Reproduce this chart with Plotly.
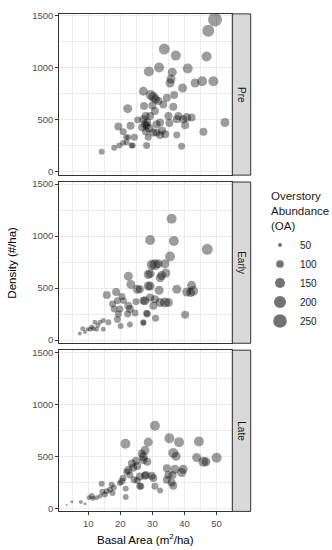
import plotly.graph_objects as go
import math

# ---------------- data ----------------
pre_ba = [14.2,18.1,19.7,20.9,19.4,20.9,21.8,22.3,23.2,23.9,24.4,25.4,27.2,28.2,28.7,28.9,27.4,27.9,27.7,29.5,30.3,31.0,30.8,32.1,33.7,31.3,37.3,36.2,41.0,35.8,35.5,39.4,43.3,45.5,49.0,49.5,47.4,46.9,52.6,45.9,39.1,37.6,31.9,33.4,34.5,35.0,36.5,37.6,38.1,39.6,40.7,42.2,40.2,32.4,28.2,27.2,31.3,34.0,32.4,30.3,29.3,28.4,28.0,22.5,22.0,23.5,33.0,35.3,30.0,26.8,29.0,36.8]
pre_den = [195,232,254,280,437,387,333,609,444,254,333,501,777,254,333,967,634,539,459,740,720,700,587,1005,1182,459,1119,960,995,894,856,808,856,872,872,1465,1357,1110,476,387,247,355,682,650,713,539,628,507,539,507,523,523,450,476,444,507,380,364,355,380,539,476,390,333,286,254,400,470,640,430,420,740]
pre_oa = [73,73,73,73,106,88,73,126,106,73,88,88,126,88,88,148,106,106,106,148,148,126,106,148,172,106,148,126,148,126,126,126,126,148,148,260,199,148,126,106,88,88,106,106,106,106,106,106,106,106,126,106,106,106,106,106,106,106,106,106,106,106,106,73,73,73,106,106,106,106,126,106]

early_ba = [7.4,8.3,9.0,10.6,11.1,12.1,11.6,12.6,13.7,14.7,14.7,16.3,15.8,18.7,19.1,17.6,18.1,19.4,19.1,20.1,19.9,22.5,23.3,25.3,22.5,23.0,22.3,23.0,24.9,24.6,27.2,27.2,28.4,28.7,28.7,29.3,36.0,36.7,47.1,35.5,30.8,29.8,31.8,33.9,29.3,32.9,34.2,32.4,29.3,32.1,26.1,37.6,40.7,42.2,42.7,41.9,27.7,29.3,30.8,32.4,33.9,35.0,30.3,28.2,27.2,31.0,40.2,21.0,20.5,9.8,13.0]
early_den = [63,110,79,104,126,173,110,104,173,189,104,173,435,463,378,347,300,252,199,135,300,615,536,489,331,300,252,151,369,262,378,173,252,520,631,962,1167,953,873,804,725,725,735,735,640,621,646,599,520,479,489,489,463,527,473,457,378,410,394,362,362,362,331,258,164,211,243,380,420,105,140]
early_oa = [50,60,50,60,60,60,60,60,60,60,60,73,106,106,88,88,88,88,88,73,88,126,126,126,106,106,88,73,88,88,106,73,88,126,126,148,148,148,172,148,172,148,126,126,126,126,126,126,126,126,106,126,126,126,148,126,126,106,106,126,148,126,106,88,73,88,106,88,88,50,60]

late_ba = [3.3,4.9,7.7,9.0,10.3,11.1,12.6,13.7,14.4,14.2,15.2,15.8,16.8,17.3,17.6,19.9,21.7,21.7,20.9,22.5,23.6,23.0,24.9,25.3,24.3,26.1,26.4,25.3,21.6,27.7,28.7,27.2,28.4,28.0,30.8,35.3,38.3,44.5,43.8,45.9,46.7,50.0,36.5,37.4,26.7,27.2,34.5,37.0,39.6,39.1,35.0,36.3,34.5,36.0,36.5,30.3,29.8,27.7,30.8,32.4,26.1,22.0,24.0,18.0,11.5,20.5]
late_den = [32,63,60,44,101,117,101,117,158,236,132,164,179,227,148,243,189,108,290,368,431,321,457,406,274,306,211,268,620,557,636,495,447,321,793,674,636,642,488,447,447,485,532,500,526,463,384,375,375,344,321,321,274,249,217,290,312,312,211,170,211,350,390,200,95,260]
late_oa = [36,42,50,42,60,73,60,60,73,73,73,73,73,73,73,73,73,73,88,106,106,88,106,106,88,106,88,88,148,126,126,126,106,106,148,148,148,148,126,148,126,148,148,126,106,106,106,126,126,126,106,106,106,106,106,106,106,106,88,73,88,88,106,73,60,88]

periods = ["Pre", "Early", "Late"]
legend_oa = [50, 100, 150, 200, 250]

# ---------------- styling ----------------
W, H = 332, 550
FILL = "rgba(0,0,0,0.55)"
GRID = "#EBEBEB"
BORDER = "#333333"
TICKC = "#4D4D4D"
FONT = "Liberation Sans, Arial, sans-serif"

def diam(oa):
    return math.sqrt(max(oa * 0.8585 - 26.9, 4.0))

x0p, x1p = 59.3, 232.3
strip_x1 = 250.7
panels_px = [(10, 173), (180, 343), (350, 513)]
xdom = [x0p / W, x1p / W]

fig = go.Figure()
data = [(pre_ba, pre_den, pre_oa), (early_ba, early_den, early_oa), (late_ba, late_den, late_oa)]

for i, (bx, dy, oa) in enumerate(data):
    n = i + 1
    fig.add_trace(go.Scatter(
        x=bx, y=dy, mode="markers",
        marker=dict(size=[diam(v) for v in oa], color=FILL, line=dict(width=0)),
        xaxis=f"x{n}", yaxis=f"y{n}", showlegend=False, hoverinfo="skip"))

# legend entries
for v in legend_oa:
    fig.add_trace(go.Scatter(
        x=[None], y=[None], mode="markers", name=str(v),
        marker=dict(size=diam(v), color=FILL, line=dict(width=0)),
        xaxis="x1", yaxis="y1", showlegend=True))

layout = dict(
    width=W, height=H, margin=dict(l=0, r=0, t=0, b=0),
    paper_bgcolor="white", plot_bgcolor="white",
    font=dict(family=FONT, color="#1A1A1A"),
    legend=dict(
        font=dict(size=10, color="#1A1A1A", family=FONT),
        x=260 / W, xanchor="left", y=1 - 229 / H, yanchor="top",
        bgcolor="rgba(0,0,0,0)", itemsizing="trace"),
)

shapes = []
annotations = []
for i, (t, b) in enumerate(panels_px):
    n = i + 1
    ydom = [1 - b / H, 1 - t / H]
    xa = dict(
        domain=xdom, range=[1, 54.9], anchor=f"y{n}",
        dtick=10, tick0=0, showgrid=True, gridcolor=GRID, gridwidth=1,
        minor=dict(dtick=5, tick0=0, showgrid=True, gridcolor=GRID, gridwidth=0.5),
        showline=True, mirror=True, linecolor=BORDER, linewidth=1,
        zeroline=False, fixedrange=True,
    )
    if n == 3:
        xa.update(ticks="outside", ticklen=3, tickcolor=BORDER, tickwidth=1,
                  showticklabels=True, tickfont=dict(size=9.5, color=TICKC, family=FONT))
    else:
        xa.update(ticks="", showticklabels=False, matches="x3")
    ya = dict(
        domain=ydom, range=[-30, 1520], anchor=f"x{n}",
        dtick=500, tick0=0, showgrid=True, gridcolor=GRID, gridwidth=1,
        minor=dict(dtick=250, tick0=0, showgrid=True, gridcolor=GRID, gridwidth=0.5),
        showline=True, mirror=True, linecolor=BORDER, linewidth=1,
        zeroline=False, ticks="outside", ticklen=3, tickcolor=BORDER, tickwidth=1,
        tickfont=dict(size=9.5, color=TICKC, family=FONT), fixedrange=True,
    )
    layout[f"xaxis{n}" if n > 1 else "xaxis"] = xa
    layout[f"yaxis{n}" if n > 1 else "yaxis"] = ya
    shapes.append(dict(type="rect", xref="paper", yref="paper",
                       x0=x1p / W, x1=strip_x1 / W, y0=ydom[0], y1=ydom[1],
                       fillcolor="#D9D9D9", line=dict(color=BORDER, width=1), layer="above"))
    annotations.append(dict(text=periods[i], xref="paper", yref="paper",
                            x=(x1p + strip_x1) / 2 / W, y=(ydom[0] + ydom[1]) / 2,
                            xanchor="center", yanchor="middle",
                            showarrow=False, textangle=90,
                            font=dict(size=10, color="#1A1A1A", family=FONT)))

annotations.append(dict(text="Density (#/ha)", xref="paper", yref="paper",
                        x=12 / W, y=1 - 261.5 / H, xanchor="center", yanchor="middle",
                        showarrow=False, textangle=-90,
                        font=dict(size=11.5, color="#000000", family=FONT)))
annotations.append(dict(text="Basal Area (m<sup>2</sup>/ha)", xref="paper", yref="paper",
                        x=(x0p + x1p) / 2 / W, y=1 - 540.5 / H, xanchor="center", yanchor="middle",
                        showarrow=False,
                        font=dict(size=11.5, color="#000000", family=FONT)))
annotations.append(dict(text="Overstory<br>Abundance<br>(OA)", xref="paper", yref="paper",
                        x=269 / W, y=1 - 186 / H, xanchor="left", yanchor="top", align="left",
                        showarrow=False,
                        font=dict(size=11.5, color="#1A1A1A", family=FONT)))

layout["shapes"] = shapes
layout["annotations"] = annotations
fig.update_layout(**layout)

fig.write_html("out.html", config={"responsive": False, "displayModeBar": False},
               post_script="document.body.style.margin='0';document.body.style.padding='0';")
